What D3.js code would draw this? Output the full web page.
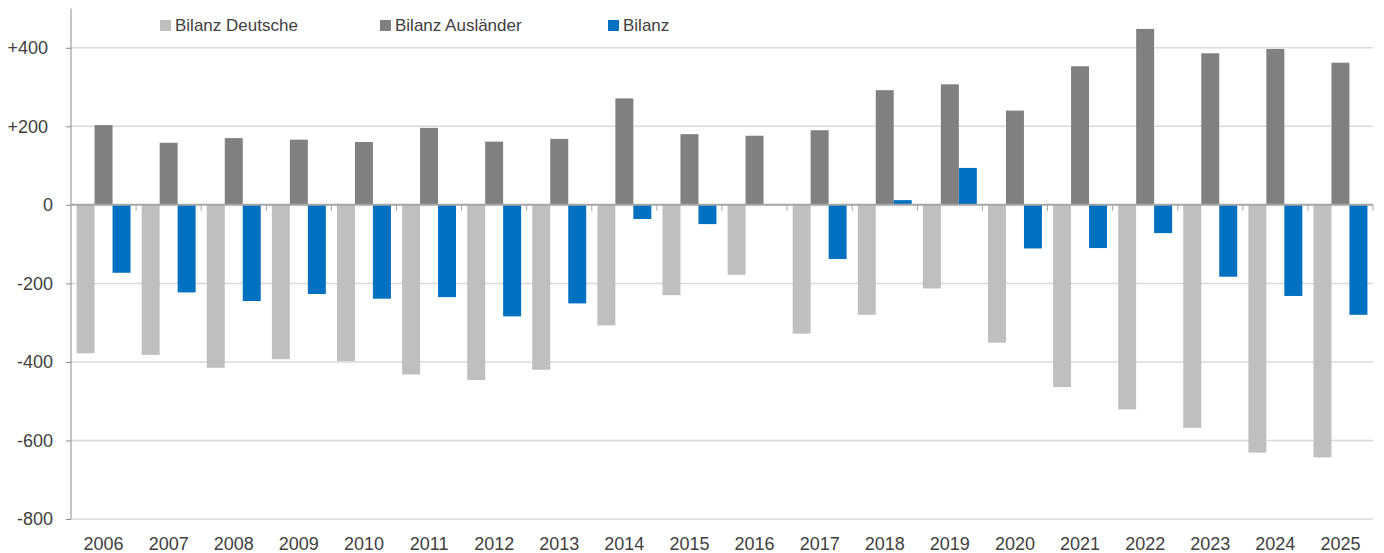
<!DOCTYPE html>
<html>
<head>
<meta charset="utf-8">
<script src="https://cdn.jsdelivr.net/npm/d3@7"></script>
<style>
  body { margin: 0; background: #fff; }
  svg text { font-family: "Liberation Sans", Arial, sans-serif; fill: #404040; }
</style>
</head>
<body>
<svg id="chart"></svg>
<script>
// data (thousands)
const years = ["2006","2007","2008","2009","2010","2011","2012","2013","2014","2015",
               "2016","2017","2018","2019","2020","2021","2022","2023","2024","2025"];
const deutsche = [-378,-382,-415,-393,-398,-432,-446,-420,-307,-230,
                  -178,-328,-280,-213,-351,-464,-521,-568,-631,-643];
const auslaender = [203,158,170,166,160,196,161,168,271,180,
                    176,190,292,307,240,353,448,386,397,362];
const bilanz = [-173,-223,-245,-227,-239,-235,-284,-251,-36,-49,
                0,-138,12,94,-111,-110,-72,-183,-232,-280];
const yTicks = [400, 200, 0, -200, -400, -600, -800];
const seriesNames = ["Bilanz Deutsche", "Bilanz Ausländer", "Bilanz"];
const colors = ["#bfbfbf", "#808080", "#0070c0"];

const width = 1384, height = 553;
const margin = { top: 8.5, right: 11, bottom: 34, left: 71 };

const svg = d3.select("#chart").attr("width", width).attr("height", height);

const x = d3.scaleBand().domain(years).range([margin.left, width - margin.right]);
const inner = d3.scaleBand().domain([0, 1, 2])
  .range([0, x.bandwidth()]).paddingInner(0).paddingOuter(0.31);
const y = d3.scaleLinear().domain([-800, 500]).range([height - margin.bottom, margin.top]);

// gridlines
svg.append("g")
  .selectAll("line")
  .data(yTicks.filter(d => d !== 0))
  .join("line")
  .attr("x1", margin.left).attr("x2", width - margin.right)
  .attr("y1", d => y(d)).attr("y2", d => y(d))
  .attr("stroke", "#d9d9d9").attr("stroke-width", 1.5);

// y axis
const yAxis = svg.append("g")
  .attr("transform", `translate(${margin.left},0)`)
  .call(d3.axisLeft(y).tickValues(yTicks).tickSize(5).tickPadding(13)
    .tickFormat(d => d > 0 ? "+" + d : String(d)));
yAxis.select(".domain").attr("stroke", "#8c8c8c").attr("d", `M0,${y(500)}V${y(-800)}`);
yAxis.selectAll(".tick line").attr("stroke", "#8c8c8c");
yAxis.selectAll(".tick text")
  .attr("font-size", 18).attr("fill", "#404040")
  .attr("dx", d => d > 0 ? -5 : 0);

// bars
const series = [deutsche, auslaender, bilanz];
const groups = svg.append("g").selectAll("g")
  .data(years)
  .join("g")
  .attr("transform", d => `translate(${x(d)},0)`);

groups.selectAll("rect")
  .data((d, i) => series.map((s, k) => ({ k, v: s[i] })))
  .join("rect")
  .attr("x", d => inner(d.k))
  .attr("width", inner.bandwidth())
  .attr("y", d => y(Math.max(0, d.v)))
  .attr("height", d => Math.abs(y(d.v) - y(0)))
  .attr("fill", d => colors[d.k]);

// zero line with category ticks
const xAxis = svg.append("g")
  .attr("transform", `translate(0,${y(0)})`);
xAxis.append("line")
  .attr("x1", margin.left).attr("x2", width - margin.right)
  .attr("stroke", "#a6a6a6").attr("stroke-width", 2);
xAxis.selectAll(".sep")
  .data(years)
  .join("line")
  .attr("class", "sep")
  .attr("x1", d => x(d) + x.bandwidth()).attr("x2", d => x(d) + x.bandwidth())
  .attr("y1", 0).attr("y2", 6)
  .attr("stroke", "#a6a6a6");

// year labels along the bottom
svg.append("g")
  .call(d3.axisBottom(x).tickSize(0))
  .attr("transform", `translate(0,544)`)
  .call(g => g.select(".domain").remove())
  .selectAll("text")
  .attr("font-size", 18).attr("fill", "#404040").attr("dy", "0.35em").attr("y", 0);

// legend
const legendX = [160, 380, 608];
const legend = svg.append("g").selectAll("g")
  .data(seriesNames)
  .join("g")
  .attr("transform", (d, i) => `translate(${legendX[i]},20)`);
legend.append("rect")
  .attr("width", 11).attr("height", 11)
  .attr("fill", (d, i) => colors[i]);
legend.append("text")
  .attr("x", 15).attr("y", 5.5).attr("dy", "0.35em")
  .attr("font-size", 17)
  .text(d => d);
</script>
</body>
</html>
